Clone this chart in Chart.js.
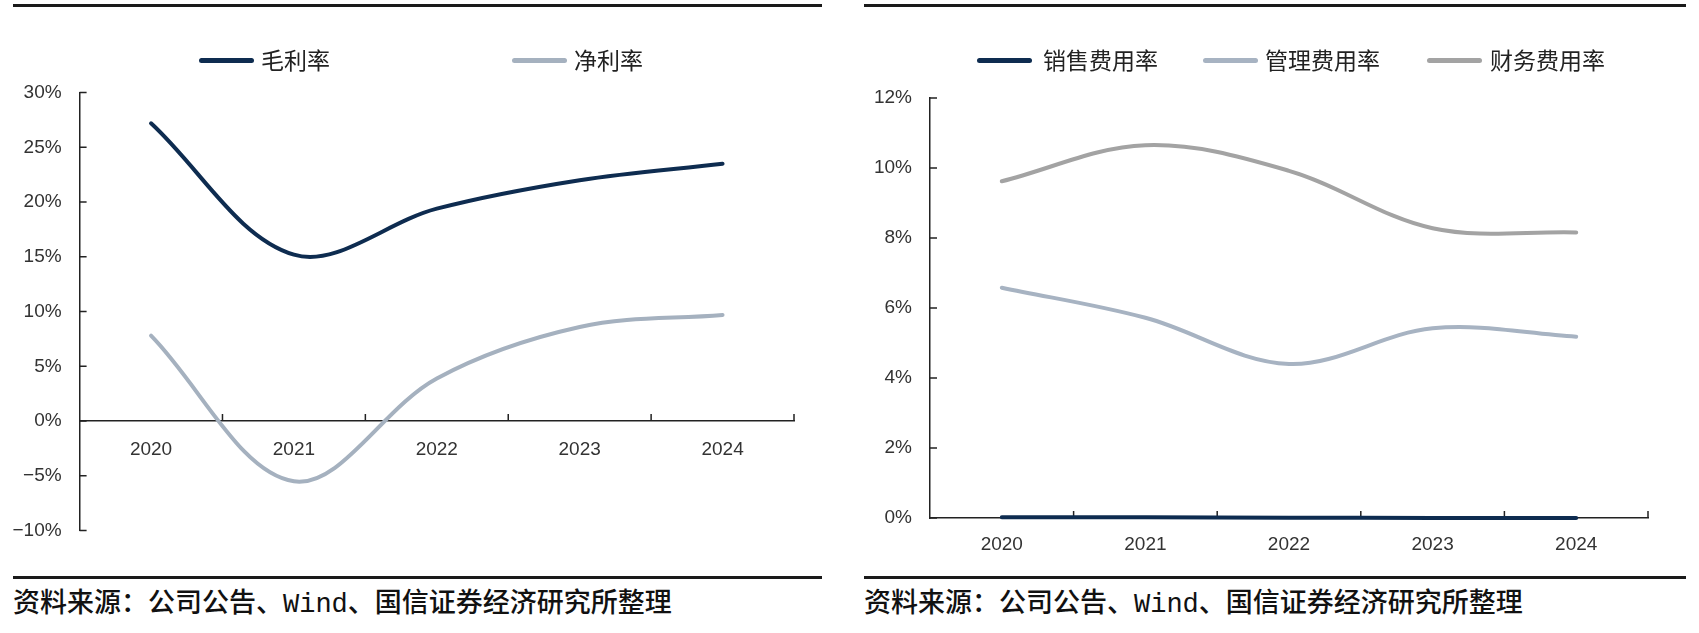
<!DOCTYPE html>
<html><head><meta charset="utf-8">
<script src="https://cdn.jsdelivr.net/npm/chart.js@4"></script>
<style>
html,body{margin:0;padding:0;background:#fff;width:1699px;height:633px;overflow:hidden;}
.rule{position:absolute;background:#1a1a1a;}
.wrap{position:absolute;top:0;height:560px;}
.leg{position:absolute;font-family:"Noto Sans CJK SC",sans-serif;font-size:23px;color:#222;line-height:1;white-space:nowrap;}
.legline{position:absolute;height:5px;border-radius:2.5px;}
.foot{position:absolute;top:592px;font-family:"Liberation Mono","Noto Sans CJK SC",sans-serif;font-size:27px;font-weight:500;color:#111;white-space:nowrap;line-height:1;}
</style></head><body>
<div class="rule" style="left:13px;width:809px;top:4px;height:3px"></div>
<div class="rule" style="left:864px;width:822px;top:4px;height:3px"></div>
<div class="rule" style="left:13px;width:809px;top:576px;height:2.5px"></div>
<div class="rule" style="left:864px;width:822px;top:576px;height:2.5px"></div>
<div class="wrap" style="left:0;width:850px"><canvas id="c1" width="850" height="560"></canvas></div>
<div class="wrap" style="left:850px;width:849px"><canvas id="c2" width="849" height="560"></canvas></div>
<div id="legends"></div>
<div class="foot" id="f1" style="left:13px"></div>
<div class="foot" id="f2" style="left:864px"></div>
<script>
// ---- data ----
const years = ['2020','2021','2022','2023','2024'];
const grossMargin = [27.2, 15.2, 19.4, 22.0, 23.5];
const netMargin   = [7.8, -5.5, 3.9, 8.6, 9.7];
const sellingRate = [0.02, 0.02, 0.01, 0.0, 0.0];
const adminRate   = [6.58, 5.72, 4.40, 5.42, 5.18];
const financeRate = [9.62, 10.65, 9.92, 8.28, 8.16];
const leftYTicks  = [-10, -5, 0, 5, 10, 15, 20, 25, 30];
const rightYTicks = [0, 2, 4, 6, 8, 10, 12];
const leftNames  = ['毛利率', '净利率'];
const rightNames = ['销售费用率', '管理费用率', '财务费用率'];
const sourceText = '资料来源：公司公告、Wind、国信证券经济研究所整理';

// ---- styles ----
const C_NAVY = '#0e2c50', C_LIGHT = '#a5b1bf', C_ADMIN = '#a7b3c2', C_GRAY = '#a3a3a3';
const tickFont = {family: '"Liberation Sans",Arial,sans-serif', size: 19};
const fmt = v => (v < 0 ? '\u2212' + Math.abs(v) : v) + '%';

const innerTicks = {
  id: 'innerTicks',
  beforeDatasetsDraw(chart) {
    const {ctx, chartArea: a, scales: {x, y}} = chart;
    ctx.save();
    ctx.strokeStyle = '#222'; ctx.lineWidth = 1.5;
    ctx.beginPath();
    y.ticks.forEach((t, i) => { const py = y.getPixelForTick(i); ctx.moveTo(a.left, py); ctx.lineTo(a.left + 7, py); });
    const y0 = y.getPixelForValue(0);
    for (let i = 1; i <= x.ticks.length; i++) {
      const px = x.getPixelForValue(i - 0.5);
      ctx.moveTo(px, y0); ctx.lineTo(px, y0 - 7);
    }
    ctx.stroke();
    ctx.restore();
  }
};

function makeChart(id, datasets, ymin, ymax, yTicks, pad, yWidth, xPad) {
  return new Chart(document.getElementById(id), {
    type: 'line',
    data: {labels: years, datasets},
    plugins: [innerTicks],
    options: {
      responsive: false, animation: false,
      layout: {padding: pad},
      plugins: {legend: {display: false}, tooltip: {enabled: false}},
      elements: {point: {radius: 0}, line: {tension: 0.35, borderCapStyle: 'round'}},
      scales: {
        x: {
          type: 'category', offset: true, position: {y: 0},
          afterFit(s) { s.height = 0; },
          grid: {display: false, drawTicks: false},
          border: {display: true, color: '#222', width: 1.5},
          ticks: {padding: xPad, color: '#333', font: tickFont, maxRotation: 0, autoSkip: false}
        },
        y: {
          min: ymin, max: ymax,
          afterBuildTicks(s) { s.ticks = yTicks.map(v => ({value: v})); },
          afterFit(s) { s.width = yWidth; },
          grid: {display: false, drawTicks: false},
          border: {display: true, color: '#222', width: 1.5},
          ticks: {padding: 18, color: '#333', font: tickFont, callback: fmt}
        }
      }
    }
  });
}

makeChart('c1', [
  {label: leftNames[0], data: grossMargin, borderColor: C_NAVY, borderWidth: 4},
  {label: leftNames[1], data: netMargin, borderColor: C_LIGHT, borderWidth: 4}
], -10, 30, leftYTicks, {left: 0, top: 92.6, right: 56, bottom: 27.5}, 79.6, 17);

makeChart('c2', [
  {label: rightNames[0], data: sellingRate, borderColor: C_NAVY, borderWidth: 4, clip: false},
  {label: rightNames[1], data: adminRate, borderColor: C_ADMIN, borderWidth: 4},
  {label: rightNames[2], data: financeRate, borderColor: C_GRAY, borderWidth: 4}
], 0, 12, rightYTicks, {left: 0, top: 98, right: 51, bottom: 42}, 80, 15);

// ---- legends (HTML text) ----
const legendLayout = [
  {names: leftNames, colors: [C_NAVY, C_LIGHT], lines: [199, 512], texts: [261, 574]},
  {names: rightNames, colors: [C_NAVY, C_ADMIN, C_GRAY], lines: [977, 1203, 1427], texts: [1043, 1265, 1490]}
];
const lg = document.getElementById('legends');
legendLayout.forEach(L => L.names.forEach((n, i) => {
  const ln = document.createElement('div');
  ln.className = 'legline';
  ln.style.cssText = `left:${L.lines[i]}px;width:55px;top:57.5px;background:${L.colors[i]}`;
  lg.appendChild(ln);
  const t = document.createElement('div');
  t.className = 'leg';
  t.style.cssText = `left:${L.texts[i]}px;top:48px`;
  t.textContent = n;
  lg.appendChild(t);
}));
document.getElementById('f1').textContent = sourceText;
document.getElementById('f2').textContent = sourceText;
</script>
</body></html>
